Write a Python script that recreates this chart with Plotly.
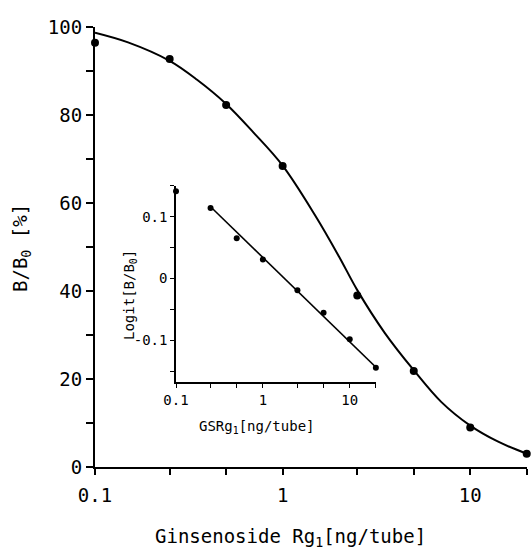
import plotly.graph_objects as go

# Main data: concentration (ng/tube) vs B/B0 (%)
conc = [0.1, 0.25, 0.5, 1, 2.5, 5, 10, 20]
bb0 = [96.4, 92.7, 82.3, 68.4, 39.0, 21.8, 9.0, 3.0]

# Fitted standard curve
curve_x = [0.1, 0.15, 0.25, 0.35, 0.5, 0.7, 1, 1.5, 2, 2.5, 3.5, 5, 7, 10, 14, 20]
curve_y = [98.7, 96.5, 92.3, 88.0, 82.5, 76.0, 68.5, 57.0, 47.8, 40.2, 30.5, 22.0, 14.8, 9.4, 5.8, 3.0]

# Inset: logit plot
in_x = [0.1, 0.25, 0.5, 1, 2.5, 5, 10, 20]
in_y = [0.141, 0.114, 0.065, 0.031, -0.019, -0.055, -0.098, -0.144]
fit_x = [0.25, 20]
fit_y = [0.116, -0.143]

# Tick labels
main_xticks = [0.1, 0.25, 0.5, 1, 2.5, 5, 10, 20]
main_xlabels = ["0.1", "", "", "1", "", "", "10", ""]
main_yticks = [0, 10, 20, 30, 40, 50, 60, 70, 80, 90, 100]
main_ylabels = ["0", "", "20", "", "40", "", "60", "", "80", "", "100"]
in_xticks = [0.1, 0.25, 0.5, 1, 2.5, 5, 10, 20]
in_xlabels = ["0.1", "", "", "1", "", "", "10", ""]
in_yticks = [-0.15, -0.1, -0.05, 0, 0.05, 0.1, 0.15]
in_ylabels = ["", "-0.1", "", "0", "", "0.1", ""]

FONT = "DejaVu Sans Mono"

W, H = 531, 552
L, T = 95, 27
pw, ph = 432, 440
R = W - L - pw
B = H - T - ph


def px(xp):
    return (xp - L) / pw


def py(yp):
    return (H - B - yp) / ph


fig = go.Figure()
fig.add_trace(go.Scatter(x=curve_x, y=curve_y, mode="lines", line=dict(color="black", width=2, shape="spline"),
                         xaxis="x", yaxis="y", showlegend=False, hoverinfo="skip", cliponaxis=False))
fig.add_trace(go.Scatter(x=conc, y=bb0, mode="markers", marker=dict(color="black", size=8),
                         xaxis="x", yaxis="y", showlegend=False, cliponaxis=False))
fig.add_trace(go.Scatter(x=fit_x, y=fit_y, mode="lines", line=dict(color="black", width=1.6),
                         xaxis="x2", yaxis="y2", showlegend=False, hoverinfo="skip"))
fig.add_trace(go.Scatter(x=in_x, y=in_y, mode="markers", marker=dict(color="black", size=6),
                         xaxis="x2", yaxis="y2", showlegend=False, cliponaxis=False))

axis_common = dict(showgrid=False, zeroline=False, showline=True, linecolor="black",
                   ticks="outside", tickcolor="black", mirror=False)

ann_common = dict(xref="paper", yref="paper", showarrow=False, xanchor="center", yanchor="middle")

fig.update_layout(
    width=W, height=H,
    margin=dict(l=L, r=R, t=T, b=B),
    paper_bgcolor="white", plot_bgcolor="rgba(0,0,0,0)",
    font=dict(family=FONT, color="black"),
    xaxis=dict(type="log", range=[-1, 1.3025], tickvals=main_xticks, ticktext=main_xlabels,
               linewidth=2, tickwidth=1.5, ticklen=6, ticklabelstandoff=4,
               tickfont=dict(size=19, family=FONT), **axis_common),
    yaxis=dict(range=[0, 100], tickvals=main_yticks, ticktext=main_ylabels,
               linewidth=2, tickwidth=1.5, ticklen=7, tickfont=dict(size=19, family=FONT), **axis_common),
    xaxis2=dict(type="log", range=[-1, 1.3025], domain=[px(176), px(376)], anchor="y2",
                tickvals=in_xticks, ticktext=in_xlabels, linewidth=1.5, tickwidth=1, ticklen=4,
                tickfont=dict(size=14, family=FONT), **axis_common),
    yaxis2=dict(range=[-0.167, 0.15], domain=[py(382), py(185.7)], anchor="x2",
                tickvals=in_yticks, ticktext=in_ylabels, linewidth=1.5, tickwidth=1, ticklen=4,
                tickfont=dict(size=14, family=FONT), **axis_common),
    annotations=[
        dict(text="Ginsenoside Rg<sub>1</sub>[ng/tube]", x=px(290), y=py(537),
             font=dict(size=19, family=FONT), **ann_common),
        dict(text="B/B<sub>0</sub> [%]", x=px(22), y=py(248), textangle=-90,
             font=dict(size=19, family=FONT), **ann_common),
        dict(text="GSRg<sub>1</sub>[ng/tube]", x=px(256), y=py(427),
             font=dict(size=14, family=FONT), **ann_common),
        dict(text="Logit[B/B<sub>0</sub>]", x=px(130), y=py(295), textangle=-90,
             font=dict(size=14, family=FONT), **ann_common),
    ],
)

fig.write_html(
    "out.html",
    config={"displayModeBar": False},
    post_script="document.body.style.margin='0';document.body.style.overflow='hidden';",
)
